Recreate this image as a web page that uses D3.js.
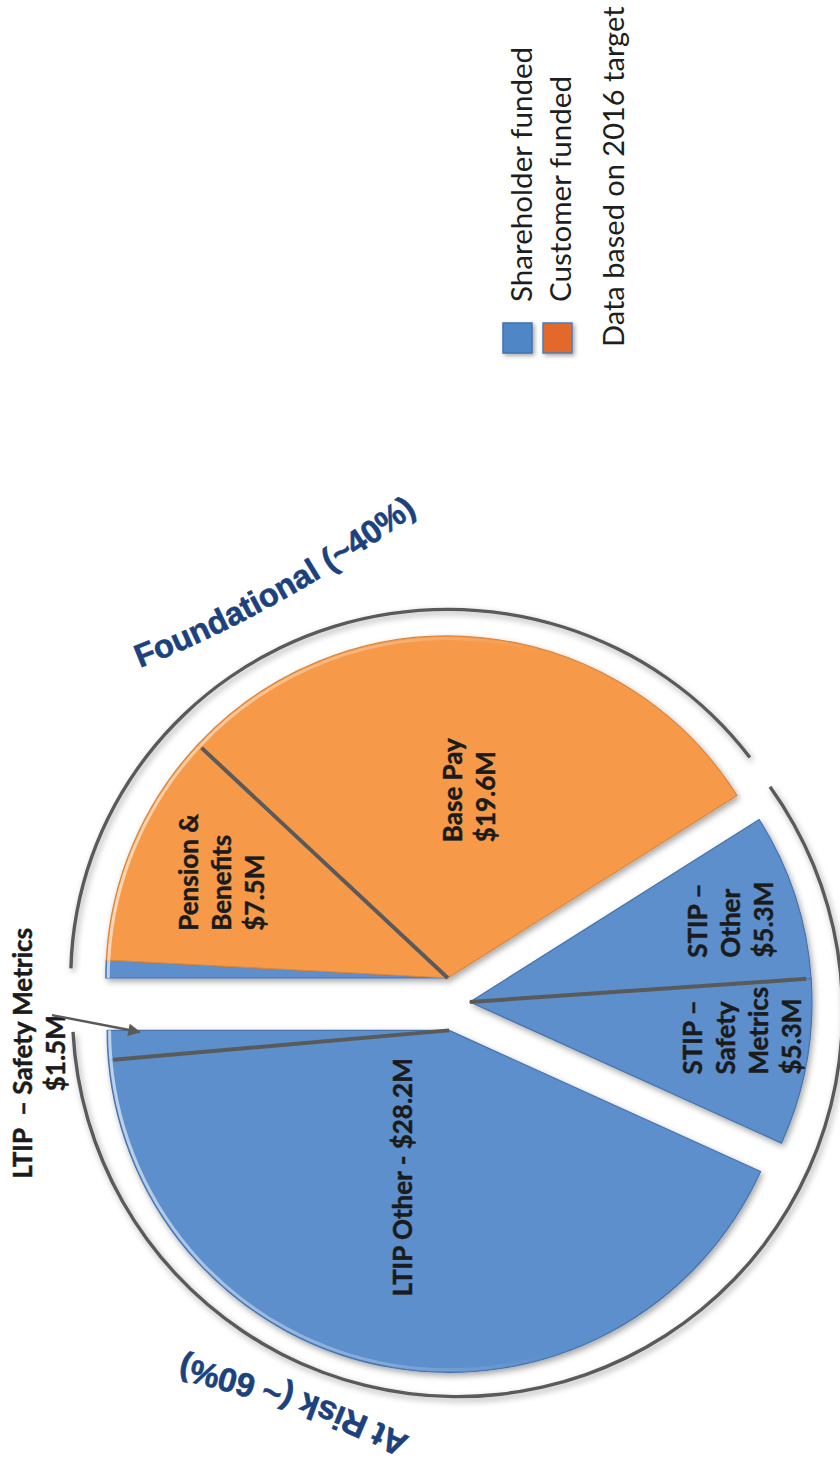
<!DOCTYPE html>
<html>
<head>
<meta charset="utf-8">
<script src="https://cdn.jsdelivr.net/npm/d3@7/dist/d3.min.js"></script>
<style>
  html, body { margin: 0; padding: 0; background: #fff; }
  svg { display: block; }
  text { white-space: pre; }
</style>
</head>
<body>
<svg id="chart" width="840" height="1464"></svg>
<script>
// ---- Executive compensation mix at 2016 target ($M) ----
const categories = ["LTIP – Safety Metrics", "Pension & Benefits", "Base Pay", "STIP – Other", "STIP – Safety Metrics", "LTIP Other"];
const values     = [1.5, 7.5, 19.6, 5.3, 5.3, 28.2];
const funding    = ["Shareholder funded", "Customer funded", "Customer funded", "Shareholder funded", "Shareholder funded", "Shareholder funded"];
const labelNames = [["LTIP \u00a0– Safety Metrics"], ["Pension &", "Benefits"], ["Base Pay"], ["STIP –", "Other"], ["STIP –", "Safety", "Metrics"], ["LTIP Other"]];
const sectionTitles = ["Foundational (~40%)", "At Risk (~ 60%)"];
const legendKeys = ["Shareholder funded", "Customer funded"];
const footnote = "Data based on 2016 target";

// ---- styles ----
const fundFill = { "Shareholder funded": "#5b8fcc", "Customer funded": "#f69a48" };
const fundEdge = { "Shareholder funded": "#4673ad", "Customer funded": "#d8873e" };
const legendFill = { "Shareholder funded": "#4f87c6", "Customer funded": "#e2692a" };
const legendEdge = { "Shareholder funded": "#3d72b4", "Customer funded": "#4a7dbd" };
const titleColor = "#1b427d";
const lineColor = "#5a5a5a";
const labelColor = "#1b1b1b";
const labelFont = "Lato, 'Open Sans', sans-serif";
const titleFont = "'Liberation Sans', Arial, sans-serif";

// ---- layout ----
const deg = Math.PI / 180;
const center = [455, 1003];
const R = 342;
const labelSize = 26, labelLead = 33;
// label block centre: radius (fraction of R) and angular nudge from slice middle (deg)
const labelPlace = [
  { r: 1.20, da: -2.2, anchor: "middle", inline: false },
  { r: 0.73, da: 2.0, anchor: "start", inline: false },
  { r: 0.553, da: 1.2, anchor: "start", inline: false },
  { r: 0.80, da: 0.6, anchor: "start", inline: false },
  { r: 0.80, da: -4.2, anchor: "start", inline: false },
  { r: 0.45, da: 7.7, anchor: "start", inline: true }
];
// curved titles: baseline start / end on the page and bend radius
const titleLayout = [
  { from: [140, 668], to: [419, 511], rho: 1200, size: 32.5 },
  { from: [410, 1437], to: [178, 1356], rho: 1000, size: 33.4 }
];

const pol = (a, r) => [Math.sin(a) * r, -Math.cos(a) * r];
const add = (p, q) => [p[0] + q[0], p[1] + q[1]];
const money = v => "$" + d3.format(".1f")(v) + "M";

const data = categories.map((c, i) => ({ category: c, value: values[i], funding: funding[i], i }));
const pie = d3.pie().sort(null).value(d => d.value).startAngle(-5 * deg).endAngle(355 * deg);
const arcs = pie(data);
const arcOf = name => arcs.find(a => a.data.category === name);

// exploded sections of the pie
const sections = [
  { key: "Foundational", from: 0, to: arcOf("Base Pay").endAngle, explode: 26 },
  { key: "STIP", from: arcOf("STIP – Other").startAngle, to: arcOf("STIP – Safety Metrics").endAngle, explode: 15 },
  { key: "LTIP", from: arcOf("STIP – Safety Metrics").endAngle, to: 2 * Math.PI, explode: 28 }
];
sections.forEach(s => { s.off = pol((s.from + s.to) / 2, s.explode); });
const secOf = a => sections.find(s => (a > s.from && a < s.to) || (a + 2 * Math.PI > s.from && a + 2 * Math.PI < s.to));

// slice pieces clipped to their section
const pieces = [];
sections.forEach(s => arcs.forEach(a => {
  [0, 2 * Math.PI].forEach(shift => {
    const a0 = Math.max(a.startAngle + shift, s.from), a1 = Math.min(a.endAngle + shift, s.to);
    if (a1 - a0 > 1e-6) pieces.push({ arc: a, sec: s, a0, a1 });
  });
}));

const svg = d3.select("#chart");
const defs = svg.append("defs");
const shadow = defs.append("filter").attr("id", "shadow")
  .attr("x", "-10%").attr("y", "-10%").attr("width", "120%").attr("height", "120%");
shadow.append("feDropShadow").attr("dx", 2).attr("dy", 3).attr("stdDeviation", 3)
  .attr("flood-color", "#000").attr("flood-opacity", 0.35);
const lshadow = defs.append("filter").attr("id", "lshadow")
  .attr("x", "-30%").attr("y", "-30%").attr("width", "160%").attr("height", "160%");
lshadow.append("feDropShadow").attr("dx", 2).attr("dy", 2).attr("stdDeviation", 2)
  .attr("flood-color", "#000").attr("flood-opacity", 0.35);
defs.append("marker").attr("id", "arrowhead").attr("viewBox", "0 0 10 10")
  .attr("refX", 9).attr("refY", 5).attr("markerWidth", 6).attr("markerHeight", 5)
  .attr("orient", "auto").attr("markerUnits", "strokeWidth")
  .append("path").attr("d", "M0,0 L10,5 L0,10 Z").attr("fill", lineColor);

// highlight rim along the outer edge, bright toward the upper left of the page
const rimGrad = defs.append("linearGradient").attr("id", "rim").attr("gradientUnits", "userSpaceOnUse")
  .attr("x1", 0).attr("y1", -R).attr("x2", 0).attr("y2", R * 0.3);
rimGrad.append("stop").attr("offset", 0).attr("stop-color", "#fff").attr("stop-opacity", 0.6);
rimGrad.append("stop").attr("offset", 1).attr("stop-color", "#fff").attr("stop-opacity", 0);

const frame = `translate(${center[0]},${center[1]}) rotate(-90)`;
const shadowed = svg.append("g").attr("filter", "url(#shadow)").append("g").attr("transform", frame);
const flat = svg.append("g").attr("transform", frame);

const arcGen = d3.arc().innerRadius(0).outerRadius(R);

// outer brackets around each section group (sq: flattening toward the page's vertical)
const found = sections[0];
const riskMid = (found.to + 2 * Math.PI) / 2;
const brackets = [
  { off: found.off, r: 377, sq: 0.978, a0: found.from + 1.5 * deg, a1: found.to - 4.5 * deg },
  { off: pol(riskMid, 9), r: 385, sq: 1, a0: found.to - 3.5 * deg, a1: 2 * Math.PI - 3 * deg }
];
shadowed.selectAll("path.bracket").data(brackets).join("path").attr("class", "bracket")
  .attr("transform", d => `translate(${d.off[0]},${d.off[1]}) scale(${d.sq},1)`)
  .attr("d", d => d3.arc().innerRadius(d.r - 1.7).outerRadius(d.r + 1.7)({ startAngle: d.a0, endAngle: d.a1 }))
  .attr("fill", lineColor);

// slices
shadowed.selectAll("path.slice").data(pieces).join("path").attr("class", "slice")
  .attr("transform", d => `translate(${d.sec.off[0]},${d.sec.off[1]})`)
  .attr("d", d => arcGen({ startAngle: d.a0, endAngle: d.a1 }))
  .attr("fill", d => fundFill[d.arc.data.funding])
  .attr("stroke", d => fundEdge[d.arc.data.funding]).attr("stroke-width", 1.2)
  .attr("stroke-linejoin", "round");

// rim highlight
flat.selectAll("path.rim").data(pieces).join("path").attr("class", "rim")
  .attr("transform", d => `translate(${d.sec.off[0]},${d.sec.off[1]})`)
  .attr("d", d => d3.arc().innerRadius(R - 4).outerRadius(R - 1)({ startAngle: d.a0, endAngle: d.a1 }))
  .attr("fill", "url(#rim)");

// dividers between neighbouring slices of the same funding inside one section
const dividers = [];
arcs.forEach((a, i) => {
  const prev = arcs[(i + arcs.length - 1) % arcs.length];
  const s = secOf(a.startAngle);
  if (s && prev.data.funding === a.data.funding) dividers.push({ sec: s, angle: a.startAngle });
});
flat.selectAll("line.divider").data(dividers).join("line").attr("class", "divider")
  .attr("x1", d => d.sec.off[0]).attr("y1", d => d.sec.off[1])
  .attr("x2", d => d.sec.off[0] + pol(d.angle, R - 5)[0])
  .attr("y2", d => d.sec.off[1] + pol(d.angle, R - 5)[1])
  .attr("stroke", lineColor).attr("stroke-width", 4);

// slice labels
arcs.forEach((a, i) => {
  const pl = labelPlace[i];
  const mid = (a.startAngle + a.endAngle) / 2;
  const s = secOf(mid);
  const c = add(s.off, pol(mid + pl.da * deg, pl.r * R));
  const lines = pl.inline ? [labelNames[i].join(" ") + " - " + money(a.data.value)]
                          : labelNames[i].concat([money(a.data.value)]);
  const t = flat.append("text").attr("class", "label")
    .attr("font-family", labelFont).attr("font-weight", 700).attr("font-size", labelSize)
    .attr("fill", labelColor).attr("stroke", labelColor).attr("stroke-width", 0.45)
    .attr("text-anchor", pl.anchor);
  lines.forEach(l => t.append("tspan").text(l));
  const ts = t.selectAll("tspan");
  const w = d3.max(ts.nodes(), n => n.getComputedTextLength());
  const n = lines.length;
  ts.attr("x", pl.anchor === "middle" ? c[0] : c[0] - w / 2)
    .attr("y", (d, k) => c[1] + (k - (n - 1) / 2) * labelLead + 0.35 * labelSize);
});

// pointer to the thin LTIP safety slice
const ltip = sections[2];
const arrowFrom = add(ltip.off, pol(2.2 * deg, 1.162 * R));
const arrowTo = add(ltip.off, pol(-0.3 * deg, 0.905 * R));
flat.append("line")
  .attr("x1", arrowFrom[0]).attr("y1", arrowFrom[1]).attr("x2", arrowTo[0]).attr("y2", arrowTo[1])
  .attr("stroke", lineColor).attr("stroke-width", 2.5).attr("marker-end", "url(#arrowhead)");

// curved section titles: an arc bending left of the reading direction,
// run well past the end point so no glyph is dropped
function bentPath(p0, p1, rho, extra) {
  const dx = p1[0] - p0[0], dy = p1[1] - p0[1], L = Math.hypot(dx, dy);
  const h = Math.sqrt(rho * rho - L * L / 4);
  const q = [(p0[0] + p1[0]) / 2 + h * dy / L, (p0[1] + p1[1]) / 2 - h * dx / L];
  const a0 = Math.atan2(p0[1] - q[1], p0[0] - q[0]);
  const a1 = Math.atan2(p1[1] - q[1], p1[0] - q[0]);
  let turn = a0 - a1; if (turn < 0) turn += 2 * Math.PI;
  const ae = a0 - turn - extra;
  const pe = [q[0] + rho * Math.cos(ae), q[1] + rho * Math.sin(ae)];
  return `M${p0[0]},${p0[1]} A${rho},${rho} 0 0 0 ${pe[0]},${pe[1]}`;
}
titleLayout.forEach((t, i) => {
  defs.append("path").attr("id", "title" + i).attr("d", bentPath(t.from, t.to, t.rho, 0.15));
  svg.append("text").attr("font-family", titleFont).attr("font-weight", 700).attr("font-size", t.size)
    .attr("fill", titleColor).attr("stroke", titleColor).attr("stroke-width", 0.6)
    .append("textPath").attr("href", "#title" + i).text(sectionTitles[i]);
});

// legend (reads bottom to top like the chart)
const legend = svg.append("g");
const sq = 29, sqTop = 323, sqX = [503, 543], legendBase = [532, 571];
legend.selectAll("rect").data(legendKeys).join("rect")
  .attr("x", (d, i) => sqX[i]).attr("y", sqTop).attr("width", sq).attr("height", sq + 1)
  .attr("fill", d => legendFill[d]).attr("stroke", d => legendEdge[d]).attr("stroke-width", 1.5)
  .attr("filter", "url(#lshadow)");
legend.selectAll("text.key").data(legendKeys).join("text").attr("class", "key")
  .attr("transform", (d, i) => `translate(${legendBase[i]},302) rotate(-90)`)
  .attr("font-family", labelFont).attr("font-size", 29.6).attr("fill", "#1e1e1e").text(d => d);
legend.append("text")
  .attr("transform", "translate(624,347) rotate(-90)")
  .attr("font-family", labelFont).attr("font-size", 29).attr("fill", "#1e1e1e").text(footnote);
</script>
</body>
</html>
